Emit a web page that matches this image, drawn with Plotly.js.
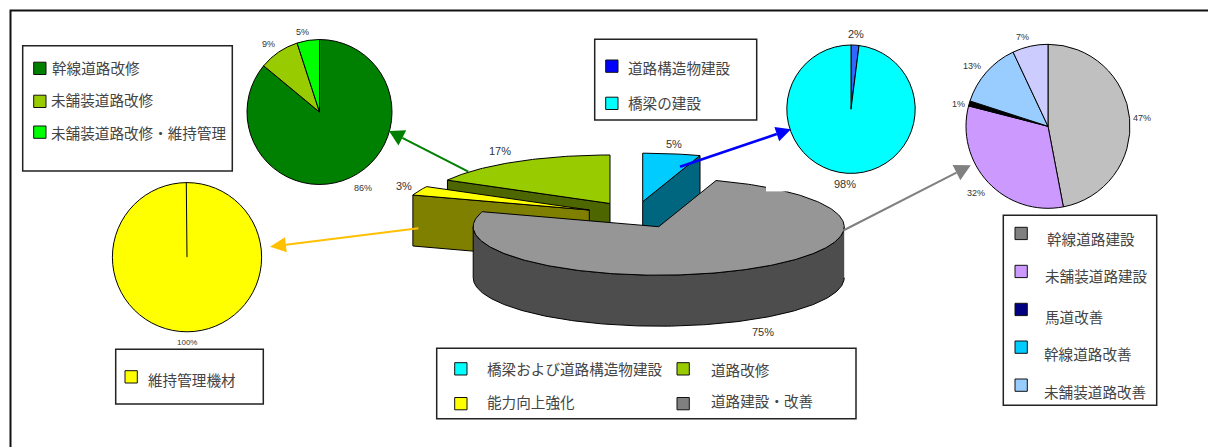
<!DOCTYPE html>
<html lang="ja">
<head>
<meta charset="utf-8">
<title>道路セクター内訳</title>
<script src="https://cdn.plot.ly/plotly-3.0.1.min.js"></script>
<style>html,body{margin:0;padding:0;background:#fff;overflow:hidden}#chart{width:1208px;height:447px}</style>
</head>
<body>
<div id="chart"></div>
<script>
// Sector shares, clockwise from twelve o'clock
const sectorNames = ['橋梁および道路構造物建設', '道路建設・改善', '能力向上強化', '道路改修'];
const sectorValues = [5, 75, 3, 17];

const repairNames = ['幹線道路改修', '未舗装道路改修', '未舗装道路改修・維持管理'];
const repairValues = [86, 9, 5];

const bridgeNames = ['道路構造物建設', '橋梁の建設'];
const bridgeValues = [2, 98];

const buildNames = ['幹線道路建設', '未舗装道路建設', '馬道改善', '幹線道路改善', '未舗装道路改善'];
const buildValues = [47, 32, 1, 13, 7];

const upkeepNames = ['維持管理機材'];
const upkeepValues = [100];

const W = 1208, H = 447;
const INK = '#000000', TEXT = '#333333', NAME_TEXT = '#444444';
const JP = '"Noto Sans CJK JP", "Noto Sans", sans-serif';
const LATIN = '"Liberation Sans", Arial, sans-serif';

const shapes = [], annotations = [], traces = [];

// Round pies, placed by pixel centre and radius
function addPie(values, colors, cx, cy, r) {
  traces.push({
    type: 'pie', values, sort: false, direction: 'clockwise', rotation: 0,
    textinfo: 'none', hoverinfo: 'percent',
    marker: {colors, line: {color: INK, width: 1}},
    domain: {x: [(cx - r) / W, (cx + r) / W], y: [1 - (cy + r) / H, 1 - (cy - r) / H]}
  });
}

function addText(text, x, y, size, family, anchor, color, lift) {
  annotations.push({
    text, x, y, xref: 'x', yref: 'y', showarrow: false,
    xanchor: anchor, yanchor: 'middle', borderpad: 0, borderwidth: 0, yshift: lift,
    font: {family, size, color}
  });
}

function addPercents(values, spots, size) {
  values.forEach((v, i) => addText(v + '%', spots[i][0], spots[i][1], size, LATIN, 'center', TEXT, 0));
}

// Framed legend: box, colour swatches and names
function addLegend(box, entries) {
  shapes.push({type: 'rect', xref: 'x', yref: 'y', x0: box[0], y0: box[1], x1: box[2], y1: box[3],
    line: {color: '#222222', width: 1.5}, fillcolor: '#ffffff', layer: 'below'});
  entries.forEach(e => {
    shapes.push({type: 'rect', xref: 'x', yref: 'y', x0: e.sx, y0: e.sy, x1: e.sx + 12.3, y1: e.sy + 12.3,
      line: {color: '#111111', width: 1}, fillcolor: e.color, layer: 'above'});
    addText(e.name, e.tx, e.ty, 14.6, JP, 'left', NAME_TEXT, 1);
  });
}

function addArrow(from, to, color, width, headLen, headWide) {
  const dx = to[0] - from[0], dy = to[1] - from[1], len = Math.hypot(dx, dy);
  const ux = dx / len, uy = dy / len;
  const bx = to[0] - ux * headLen, by = to[1] - uy * headLen;
  shapes.push({type: 'line', xref: 'x', yref: 'y', x0: from[0], y0: from[1], x1: bx, y1: by,
    line: {color, width}, layer: 'above'});
  const px = -uy * headWide / 2, py = ux * headWide / 2;
  shapes.push({type: 'path', xref: 'x', yref: 'y', layer: 'above', fillcolor: color,
    line: {color, width: 0},
    path: `M${to[0]},${to[1]} L${bx + px},${by + py} L${bx - px},${by - py} Z`});
}

// Exploded tilted pie in the middle, built from the sector shares
const RX = 185.5, RY = 48.5, DEPTH = 51;
const wedgeStyles = [
  {top: '#00ccff', side: '#006680', cx: 642.7, cy: 201.7},
  {top: '#969696', side: '#4d4d4d', cx: 658.7, cy: 226.7},
  {top: '#ffff00', side: '#808000', cx: 589.3, cy: 210},
  {top: '#99cc00', side: '#4d6600', cx: 610, cy: 203.5}
];
const paintOrder = [3, 0, 2, 1];

function rimPoint(s, deg, drop) {
  const a = deg * Math.PI / 180;
  return [s.cx + RX * Math.sin(a), s.cy - RY * Math.cos(a) + drop];
}
function polygon(points, fill) {
  traces.push({
    type: 'scatter', mode: 'lines', hoverinfo: 'skip',
    x: points.map(p => p[0]), y: points.map(p => p[1]),
    fill: 'toself', fillcolor: fill, line: {color: INK, width: 1}
  });
}
function arc(s, a0, a1, drop) {
  const pts = [], steps = Math.max(2, Math.ceil(Math.abs(a1 - a0)));
  for (let i = 0; i <= steps; i++) pts.push(rimPoint(s, a0 + (a1 - a0) * i / steps, drop));
  return pts;
}

const total = sectorValues.reduce((a, b) => a + b, 0);
const spans = [];
sectorValues.reduce((acc, v) => {
  const next = acc + v / total * 360;
  spans.push([acc, next]);
  return next;
}, 0);

paintOrder.forEach(i => {
  const s = wedgeStyles[i], a0 = spans[i][0], a1 = spans[i][1];
  const apex = [s.cx, s.cy];
  const apexLow = [s.cx, s.cy + DEPTH];
  const from = Math.max(a0, 90), to = Math.min(a1, 270);
  if (to > from) polygon(arc(s, from, to, 0).concat(arc(s, to, from, DEPTH)), s.side);
  if (a1 < 180) polygon([apex, rimPoint(s, a1, 0), rimPoint(s, a1, DEPTH), apexLow, apex], s.side);
  if (a0 > 180) polygon([apex, rimPoint(s, a0, 0), rimPoint(s, a0, DEPTH), apexLow, apex], s.side);
  polygon([apex].concat(arc(s, a0, a1, 0), [apex]), s.top);
});

addPercents(sectorValues, [[673.7, 144], [762.7, 332], [404, 186], [500, 151]], 11);

// Breakdown pies
addPie(repairValues, ['#008000', '#99cc00', '#00ff00'], 319.5, 112, 72.5);
addPercents(repairValues, [[362.7, 187.7], [268.3, 44.3], [302.7, 31.7]], 9);

addPie(bridgeValues, ['#3366ff', '#00ffff'], 851, 109.2, 64.2);
addPercents(bridgeValues, [[856, 34.3], [845, 184.3]], 11);

addPie(buildValues, ['#c0c0c0', '#cc99ff', '#000000', '#99ccff', '#ccccff'], 1048, 126.3, 82);
addPercents(buildValues, [[1142, 117.7], [975.7, 192.7], [958.3, 104], [972.3, 65.7], [1022.7, 36.7]], 9);

addPie(upkeepValues, ['#ffff00'], 187, 257.2, 74.6);
shapes.push({type: 'line', xref: 'x', yref: 'y', x0: 186.3, y0: 182.6, x1: 187, y1: 257.2,
  line: {color: INK, width: 1}, layer: 'above'});
addPercents(upkeepValues, [[187, 342]], 8);

// Outer frame runs off the right and bottom of the page
shapes.push({type: 'rect', xref: 'x', yref: 'y', x0: 10.5, y0: 10.5, x1: 1240, y1: 480,
  line: {color: '#111111', width: 2}, layer: 'below'});

// Small white gap on the far rim of the grey slice
shapes.push({type: 'rect', xref: 'x', yref: 'y', x0: 766, y0: 184, x1: 787, y1: 191.4,
  line: {width: 0}, fillcolor: '#ffffff', layer: 'above'});

// Callout arrows from the middle pie to each breakdown
addArrow([468.3, 171.7], [389, 131], '#008000', 2, 15, 17);
addArrow([680, 166.7], [791, 129.3], '#0000ff', 2.6, 15, 15);
addArrow([418.3, 228.3], [270, 246.7], '#ffc000', 2, 16, 15);
addArrow([843.3, 230.5], [970.7, 165.3], '#808080', 2, 16, 17);

// Legends
addLegend([22.7, 45.7, 232.3, 171], [
  {name: repairNames[0], color: '#008000', sx: 33.7, sy: 62.2, tx: 51.5, ty: 68},
  {name: repairNames[1], color: '#99cc00', sx: 33.7, sy: 95.2, tx: 51, ty: 100.5},
  {name: repairNames[2], color: '#00ff00', sx: 33.7, sy: 126, tx: 50.7, ty: 133.5}
]);
addLegend([594.7, 39.3, 756.7, 120], [
  {name: bridgeNames[0], color: '#0000ff', sx: 605.7, sy: 60, tx: 628.3, ty: 68.3},
  {name: bridgeNames[1], color: '#00ffff', sx: 605.7, sy: 97.2, tx: 628.3, ty: 103.3}
]);
addLegend([1003.3, 215.3, 1156.7, 405.3], [
  {name: buildNames[0], color: '#808080', sx: 1015, sy: 227.3, tx: 1046.7, ty: 239.3},
  {name: buildNames[1], color: '#cc99ff', sx: 1015, sy: 265.3, tx: 1045.3, ty: 276.7},
  {name: buildNames[2], color: '#000080', sx: 1015, sy: 303.3, tx: 1045.3, ty: 317.7},
  {name: buildNames[3], color: '#00ccff', sx: 1015, sy: 341, tx: 1044.3, ty: 354.7},
  {name: buildNames[4], color: '#99ccff', sx: 1015, sy: 379, tx: 1044.3, ty: 392}
]);
addLegend([436.7, 348.3, 856, 418.7], [
  {name: sectorNames[0], color: '#00ffff', sx: 454.7, sy: 362.7, tx: 487.3, ty: 369.3},
  {name: sectorNames[2], color: '#ffff00', sx: 454.7, sy: 397.5, tx: 487.3, ty: 402.7},
  {name: sectorNames[3], color: '#99cc00', sx: 677, sy: 362.7, tx: 710.7, ty: 370},
  {name: sectorNames[1], color: '#808080', sx: 677, sy: 397.5, tx: 710.7, ty: 401.7}
]);
addLegend([115.7, 349.3, 263.3, 404], [
  {name: upkeepNames[0], color: '#ffff00', sx: 125, sy: 370.7, tx: 148.3, ty: 380}
]);

Plotly.newPlot('chart', traces, {
  width: W, height: H,
  margin: {l: 0, r: 0, t: 0, b: 0},
  paper_bgcolor: '#ffffff', plot_bgcolor: '#ffffff',
  showlegend: false,
  xaxis: {range: [0, W], visible: false, fixedrange: true},
  yaxis: {range: [H, 0], visible: false, fixedrange: true},
  shapes, annotations
}, {displayModeBar: false, staticPlot: true});
</script>
</body>
</html>
